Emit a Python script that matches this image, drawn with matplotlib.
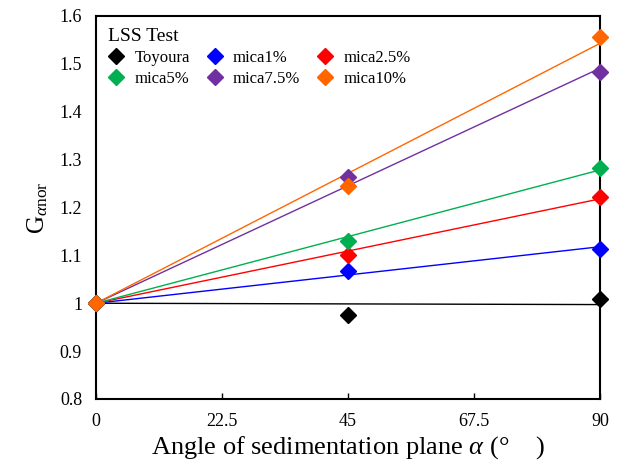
import numpy as np
import matplotlib
matplotlib.use("Agg")
import matplotlib.pyplot as plt

plt.rcParams["font.family"] = ["Liberation Serif", "DejaVu Serif"]
plt.rcParams["mathtext.fontset"] = "custom"
plt.rcParams["mathtext.rm"] = "Liberation Serif"
plt.rcParams["mathtext.it"] = "Liberation Serif:italic"

angles = [0, 45, 90]
series_names = ["Toyoura", "mica1%", "mica2.5%", "mica5%", "mica7.5%", "mica10%"]
toyoura = [1.0, 0.975, 1.009]
mica1 = [1.0, 1.067, 1.114]
mica2_5 = [1.0, 1.101, 1.222]
mica5 = [1.0, 1.130, 1.283]
mica7_5 = [1.0, 1.263, 1.482]
mica10 = [1.0, 1.245, 1.556]
colors = ["#000000", "#0000FF", "#FF0000", "#00B050", "#7030A0", "#FF6600"]
x_ticks = [0, 22.5, 45, 67.5, 90]
y_ticks = [0.8, 0.9, 1.0, 1.1, 1.2, 1.3, 1.4, 1.5, 1.6]

fig = plt.figure(figsize=(6.22, 4.62), dpi=100)
ax = fig.add_axes([0.1543, 0.1364, 0.8103, 0.829])

x = np.array(angles, dtype=float)
handles = []
for name, vals, c in zip(series_names,
                         [toyoura, mica1, mica2_5, mica5, mica7_5, mica10],
                         colors):
    y = np.array(vals)
    # linear trend line with intercept fixed at 1
    slope = np.sum(x * (y - 1)) / np.sum(x ** 2)
    ax.plot([0, 90], [1, 1 + slope * 90], color=c, linewidth=1)
    h, = ax.plot(x, y, "D", color=c, markersize=8, clip_on=False,
                 label=name, zorder=3)
    handles.append(h)

ax.set_xlim(0, 90)
ax.set_ylim(0.8, 1.6)
ax.set_xticks(x_ticks)
ax.set_xticklabels(["0", "22.5", "45", "67.5", "90"])
ax.set_yticks(y_ticks)
ax.set_yticklabels(["0.8", "0.9", "1", "1.1", "1.2", "1.3", "1.4", "1.5", "1.6"])
ax.tick_params(direction="in", labelsize=13, width=1, length=4, pad=10)
ax.tick_params(axis="y", length=0, pad=10)
for s in ax.spines.values():
    s.set_linewidth(1.5)

ax.set_xlabel("Angle of sedimentation plane " + r"$\mathit{\alpha}$" + " (°    )",
              fontsize=19, labelpad=3)
ax.set_ylabel(r"G$_{\alpha\mathrm{nor}}$", fontsize=18, labelpad=7)

order = [0, 3, 1, 4, 2, 5]
leg = ax.legend([handles[i] for i in order], [series_names[i] for i in order],
                ncol=3, loc="upper left", frameon=False, fontsize=12,
                title="LSS Test", title_fontsize=14, alignment="left",
                handlelength=1.0, handletextpad=0.6, columnspacing=1.0,
                labelspacing=0.3, borderaxespad=0.3)

fig.savefig("out.png", dpi=100)
